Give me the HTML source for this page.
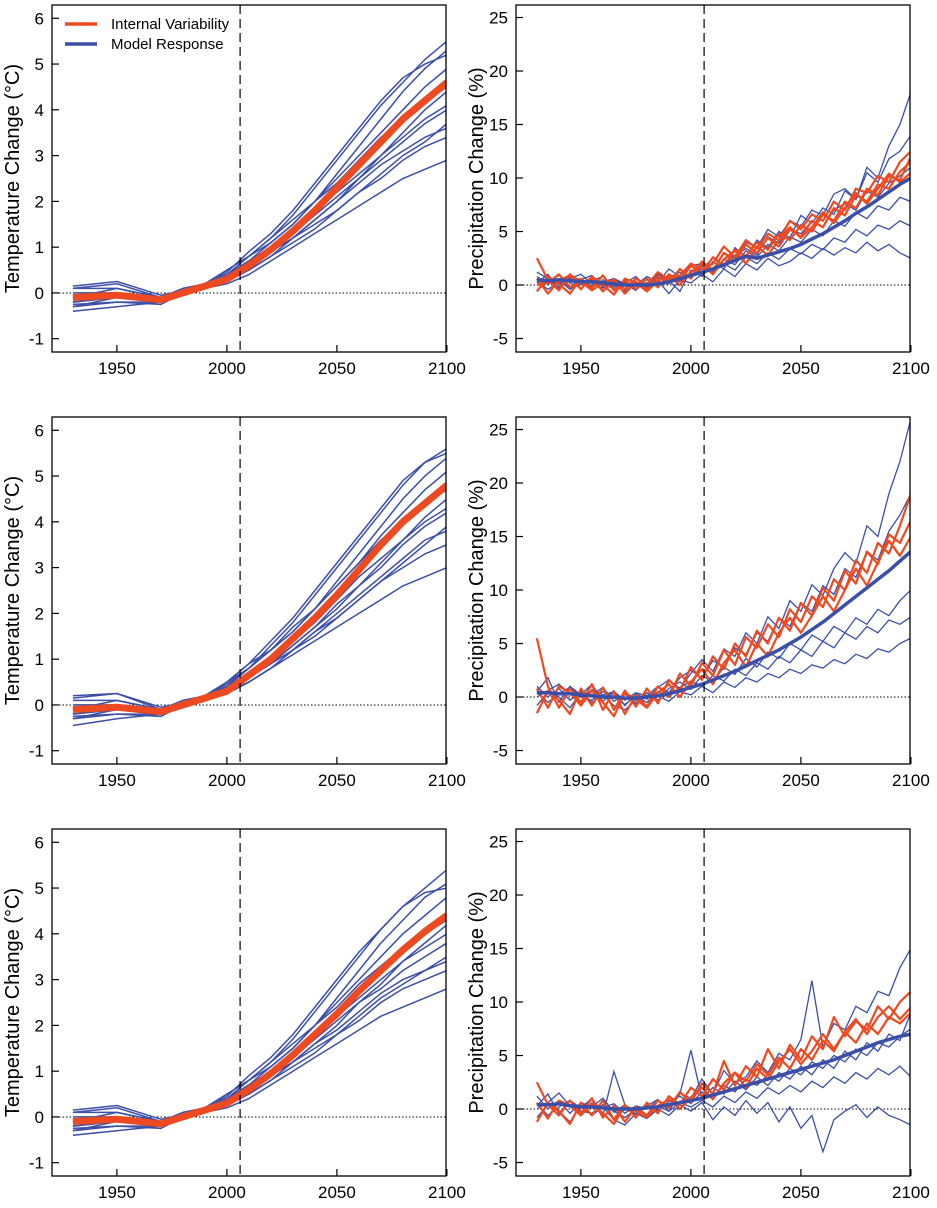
<!DOCTYPE html>
<html><head><meta charset="utf-8"><style>
body{margin:0;background:#fff}
svg{display:block;font-family:"Liberation Sans",Arial,sans-serif}
</style></head><body>
<svg id="chart" width="937" height="1208" viewBox="0 0 937 1208"></svg>
<script>
// ---------- DATA ----------
const tYears = [1930,1950,1970,1980,1990,2000,2010,2020,2030,2040,2050,2060,2070,2080,2090,2100];
const tModels1 = [
 [-0.1,0.1,-0.1,0.0,0.2,0.4,0.8,1.2,1.7,2.3,2.9,3.5,4.1,4.6,5.1,5.5],
 [0.1,0.2,-0.1,0.1,0.2,0.5,0.8,1.1,1.5,2.0,2.6,3.2,3.8,4.4,4.9,5.3],
 [-0.3,-0.2,-0.2,0.0,0.1,0.3,0.6,0.9,1.2,1.6,2.0,2.5,3.0,3.5,4.0,4.4],
 [-0.4,-0.3,-0.2,0.0,0.1,0.2,0.4,0.7,1.0,1.3,1.6,1.9,2.2,2.5,2.7,2.9],
 [0.0,0.0,-0.1,0.0,0.2,0.4,0.7,1.0,1.4,1.8,2.2,2.6,3.0,3.4,3.8,4.1],
 [-0.2,-0.1,-0.2,0.0,0.1,0.3,0.6,0.9,1.2,1.5,1.8,2.2,2.5,2.9,3.2,3.4],
 [-0.1,0.0,-0.1,0.0,0.2,0.4,0.7,1.1,1.5,2.0,2.5,3.0,3.5,4.0,4.5,4.9],
 [-0.2,-0.1,-0.2,0.0,0.1,0.3,0.5,0.8,1.1,1.4,1.8,2.2,2.6,3.0,3.3,3.7],
 [0.1,0.1,-0.1,0.0,0.2,0.5,0.8,1.2,1.6,2.0,2.4,2.9,3.4,3.8,4.2,4.5],
 [-0.3,-0.1,-0.2,0.0,0.1,0.3,0.6,0.9,1.3,1.7,2.1,2.5,2.9,3.3,3.7,4.0],
 [0.15,0.25,-0.05,0.05,0.2,0.45,0.9,1.3,1.8,2.4,3.0,3.6,4.2,4.7,5.0,5.2],
 [-0.25,-0.2,-0.25,0.0,0.1,0.25,0.5,0.8,1.2,1.6,2.0,2.4,2.8,3.1,3.4,3.6]
];
const tMean1 = [-0.1,-0.05,-0.15,0.0,0.15,0.3,0.6,0.95,1.35,1.8,2.3,2.8,3.3,3.8,4.2,4.6];
const tModels2 = [
 [-0.1,0.1,-0.1,0.0,0.2,0.4,0.8,1.3,1.8,2.4,3.0,3.6,4.2,4.8,5.3,5.6],
 [0.2,0.25,-0.1,0.1,0.2,0.5,0.9,1.2,1.6,2.1,2.7,3.3,3.9,4.5,5.0,5.4],
 [-0.3,-0.2,-0.2,0.0,0.1,0.3,0.6,0.9,1.3,1.7,2.1,2.6,3.1,3.6,4.1,4.5],
 [-0.45,-0.3,-0.2,0.0,0.1,0.25,0.5,0.8,1.1,1.4,1.7,2.0,2.3,2.6,2.8,3.0],
 [0.0,0.0,-0.1,0.0,0.2,0.4,0.7,1.0,1.4,1.8,2.3,2.8,3.2,3.6,4.0,4.3],
 [-0.2,-0.1,-0.2,0.0,0.1,0.3,0.6,0.9,1.2,1.6,1.9,2.3,2.7,3.0,3.3,3.5],
 [-0.1,0.0,-0.1,0.0,0.2,0.45,0.8,1.2,1.6,2.1,2.6,3.1,3.7,4.2,4.7,5.1],
 [-0.2,-0.1,-0.2,0.0,0.1,0.3,0.5,0.8,1.2,1.5,1.9,2.3,2.7,3.1,3.5,3.9],
 [0.1,0.1,-0.1,0.0,0.2,0.5,0.8,1.2,1.7,2.1,2.6,3.1,3.6,4.0,4.4,4.7],
 [-0.3,-0.1,-0.2,0.0,0.1,0.3,0.6,0.9,1.3,1.7,2.2,2.6,3.0,3.5,3.9,4.2],
 [0.15,0.25,-0.05,0.05,0.2,0.5,0.9,1.4,1.9,2.5,3.1,3.7,4.3,4.9,5.3,5.5],
 [-0.25,-0.2,-0.25,0.0,0.1,0.25,0.5,0.8,1.2,1.6,2.0,2.4,2.8,3.2,3.6,3.8]
];
const tMean2 = [-0.1,-0.05,-0.15,0.0,0.15,0.3,0.65,1.0,1.45,1.9,2.4,2.95,3.5,4.0,4.4,4.8];
const tModels3 = [
 [-0.1,0.1,-0.1,0.0,0.2,0.4,0.8,1.2,1.7,2.3,2.9,3.5,4.1,4.6,5.0,5.4],
 [0.1,0.2,-0.1,0.1,0.2,0.5,0.8,1.1,1.5,2.0,2.6,3.2,3.8,4.3,4.8,5.1],
 [-0.3,-0.2,-0.2,0.0,0.1,0.3,0.6,0.9,1.2,1.6,2.0,2.5,2.9,3.4,3.8,4.2],
 [-0.4,-0.3,-0.2,0.0,0.1,0.2,0.4,0.7,1.0,1.3,1.6,1.9,2.2,2.4,2.6,2.8],
 [0.0,0.0,-0.1,0.0,0.2,0.4,0.7,1.0,1.4,1.8,2.2,2.6,3.0,3.4,3.7,4.0],
 [-0.2,-0.1,-0.2,0.0,0.1,0.3,0.6,0.9,1.2,1.5,1.8,2.1,2.5,2.8,3.0,3.2],
 [-0.1,0.0,-0.1,0.0,0.2,0.4,0.7,1.1,1.5,2.0,2.5,3.0,3.5,4.0,4.4,4.8],
 [-0.2,-0.1,-0.2,0.0,0.1,0.3,0.5,0.8,1.1,1.4,1.8,2.2,2.6,2.9,3.2,3.5],
 [0.1,0.1,-0.1,0.0,0.2,0.5,0.8,1.2,1.6,2.0,2.4,2.9,3.3,3.7,4.0,4.3],
 [-0.3,-0.1,-0.2,0.0,0.1,0.3,0.6,0.9,1.3,1.7,2.1,2.5,2.8,3.2,3.5,3.8],
 [0.15,0.25,-0.05,0.05,0.2,0.45,0.9,1.3,1.8,2.4,3.0,3.6,4.1,4.6,4.9,5.0],
 [-0.25,-0.2,-0.25,0.0,0.1,0.25,0.5,0.8,1.2,1.6,1.9,2.3,2.7,3.0,3.2,3.4]
];
const tMean3 = [-0.1,-0.05,-0.15,0.0,0.15,0.3,0.6,0.95,1.35,1.8,2.25,2.75,3.2,3.65,4.05,4.4];

const pYears = [1930,1935,1940,1945,1950,1955,1960,1965,1970,1975,1980,1985,1990,1995,2000,2005,2010,2015,2020,2025,2030,2035,2040,2045,2050,2055,2060,2065,2070,2075,2080,2085,2090,2095,2100];
const pMean1 = [0.5,0.4,0.5,0.4,0.3, 0.3,0.2,0.1,0.0,0.0, 0.0,0.1,0.3,0.6,0.9, 1.2,1.5,1.9,2.3,2.7, 2.5,2.8,3.1,3.4,3.8, 4.3,4.8,5.4,6.0,6.7, 7.3,8.0,8.7,9.4,10.0];
const pModels1 = [
 [0.2,1.0,-0.3,0.8,0.5, 0.9,-0.2,0.4,0.1,-0.5, 0.6,0.2,1.5,0.8,1.8, 2.0,1.2,3.0,2.5,4.0, 3.5,5.2,4.5,6.0,5.5, 7.0,6.5,8.5,9.0,8.0, 11,10,13,15,18],
 [0.8,0.1,0.5,-0.4,0.3, -0.2,0.5,0.0,-0.6,0.2, -0.3,0.4,-0.8,0.5,0.2, 1.0,0.3,1.5,0.8,2.0, 1.4,2.5,1.8,2.2,3.0, 2.5,3.4,2.8,3.5,3.0, 4.0,3.2,3.8,3.0,2.5],
 [-0.5,0.3,0.9,0.2,-0.3, 0.4,0.8,-0.2,0.3,-0.1, 0.5,-0.2,0.7,1.2,0.6, 1.8,1.2,2.4,1.9,3.2, 2.6,3.8,3.2,4.5,4.0, 5.2,4.6,6.0,5.5,6.8, 6.2,7.4,7.0,8.2,7.8],
 [0.3,-0.4,0.2,0.6,1.0, 0.1,-0.3,0.5,0.2,0.8, -0.2,1.0,0.4,-0.6,1.4, 0.8,2.2,1.5,3.5,2.6, 4.2,3.5,5.0,4.4,6.5, 5.8,7.2,6.6,8.8,8.0, 10.5,9.6,11.8,12.5,14.0],
 [1.2,0.6,-0.2,0.4,0.0, 0.6,0.2,-0.4,0.3,0.0, 0.8,0.3,0.1,0.9,1.8, 1.0,1.5,2.0,1.4,2.6, 2.0,3.0,2.4,3.4,2.9, 3.8,3.3,4.4,4.0,5.2, 4.6,5.6,5.2,6.0,5.5],
 [0.0,0.5,0.2,-0.2,0.6, -0.1,0.3,0.6,0.1,-0.3, 0.2,0.6,0.9,0.3,1.0, 1.5,2.5,1.9,2.8,3.4, 2.8,4.5,3.9,5.2,4.8, 6.0,5.4,7.0,7.6,7.0, 8.8,8.2,9.5,10.2,11.0]
];
const pEnsemble1 = [
 [2.5,0.5,-0.5,1.0,0.2, 0.6,-0.6,0.4,-0.8,0.3, -0.4,0.8,0.2,1.5,0.6, 2.2,1.4,3.0,2.2,3.8, 3.0,4.4,3.6,5.2,4.5, 6.0,5.4,7.2,6.5,8.4, 7.8,9.4,9.0,10.6,11.5],
 [-0.6,0.8,0.1,-0.8,0.6, -0.3,0.9,-0.5,0.4,-0.4, 0.6,-0.2,1.0,0.4,1.8, 1.1,2.6,1.8,3.3,2.7, 4.0,3.3,4.8,4.2,5.6, 5.0,6.6,6.0,7.8,7.2, 9.0,8.4,10.2,9.8,12.0],
 [0.6,-0.8,0.4,0.9,-0.4, 0.8,0.0,-0.9,0.6,0.2, -0.6,0.4,0.8,0.0,1.2, 2.0,1.0,2.4,3.2,2.0, 3.6,2.8,4.2,5.4,4.4, 5.4,6.8,5.8,7.2,8.6, 7.6,9.0,10.4,9.6,10.5],
 [0.0,0.2,1.0,-0.2,0.3, -0.5,0.2,0.5,-0.4,0.6, 0.0,1.2,0.5,0.9,2.0, 1.5,2.0,3.6,2.6,4.2, 3.4,4.8,4.2,6.0,5.2, 6.6,6.0,7.8,7.0,9.0, 8.6,10.2,9.6,11.5,12.5]
];
const pMean2 = [0.4,0.4,0.3,0.3,0.2, 0.1,0.0,0.0,-0.1,-0.1, 0.0,0.1,0.3,0.6,0.9, 1.2,1.6,2.0,2.4,2.9, 3.4,3.9,4.4,5.0,5.6, 6.3,7.0,7.8,8.6,9.4, 10.2,11.0,11.8,12.7,13.6];
const pModels2 = [
 [0.5,1.8,-0.5,1.0,0.2, 1.2,-0.4,0.6,-0.8,0.3, -0.2,0.9,1.6,0.8,2.2, 3.5,2.4,4.5,3.8,6.0, 5.0,7.5,6.4,9.0,8.0, 10.5,9.5,12.0,13.5,12.5, 16,15,19,22,26],
 [-0.8,0.5,0.0,-1.0,0.4, -0.5,0.2,-0.8,-1.2,-0.3, -0.8,0.1,-0.4,0.5,0.2, 1.0,0.4,1.4,0.9,1.8, 1.4,2.2,1.8,2.6,2.2, 3.0,2.7,3.5,3.1,4.0, 3.6,4.5,4.2,5.0,5.5],
 [1.0,0.0,0.8,-0.3,0.5, 0.2,0.9,-0.4,0.3,-0.6, 0.4,-0.3,0.8,1.4,0.7, 2.0,1.4,2.8,2.1,3.6, 2.8,4.2,3.6,5.0,4.4, 5.8,5.2,6.6,6.0,7.4, 6.8,8.2,7.6,9.0,10.0],
 [0.0,0.6,1.2,0.3,-0.4, 0.7,0.2,0.5,-0.3,0.4, 0.1,1.0,0.4,1.8,2.5, 1.8,3.4,2.8,4.6,4.0, 6.0,5.2,7.4,6.6,8.8, 8.0,10.4,9.6,12.0,11.2, 13.6,12.8,15.5,17,19],
 [0.4,-0.5,0.3,0.9,0.0, -0.3,0.5,0.0,-0.7,0.1, -0.5,0.5,0.0,0.9,1.5, 1.0,2.0,1.5,2.6,2.0, 3.2,2.6,3.8,3.2,4.4, 3.8,5.2,4.6,6.0,5.4, 6.6,6.0,7.2,6.8,7.5]
];
const pEnsemble2 = [
 [5.5,1.0,-1.0,0.8,-0.5, 1.2,-1.2,0.5,-1.6,0.2, -0.9,1.0,0.0,2.2,1.0, 3.2,2.0,4.4,3.0,5.6, 4.6,6.8,5.6,8.2,7.0, 9.4,8.4,11.0,10.0,12.8, 11.6,14.4,13.4,16.0,19.0],
 [-1.5,0.6,-0.3,-1.6,0.8, -0.8,0.9,-1.2,0.6,-0.9, 0.8,-0.6,1.6,0.6,2.8, 1.6,3.8,2.6,5.0,3.8, 6.2,5.0,7.4,6.2,8.8, 7.6,10.2,9.0,11.8,10.6, 13.6,12.4,15.2,14.4,16.5],
 [0.8,-1.0,1.0,0.4,-0.8, 0.6,-0.5,-1.8,0.4,-0.2, -1.0,0.4,1.2,0.0,1.4, 2.6,1.2,3.2,4.4,2.8, 5.0,3.8,6.0,7.4,6.0, 7.6,9.4,8.0,10.0,12.0, 10.4,12.6,14.6,13.2,15.0]
];
const pMean3 = [0.4,0.4,0.5,0.3,0.2, 0.2,0.1,0.0,0.0,0.0, 0.1,0.2,0.4,0.6,0.8, 1.0,1.3,1.6,1.9,2.2, 2.5,2.8,3.1,3.4,3.7, 4.0,4.3,4.6,5.0,5.4, 5.8,6.2,6.5,6.8,7.0];
const pModels3 = [
 [0.3,1.4,-0.4,0.8,0.1, 1.0,-0.6,3.5,0.4,-0.5, 0.3,0.9,-0.2,1.5,1.0, 2.8,1.4,3.6,2.4,3.0, 4.5,3.4,5.2,4.6,6.5, 12.0,5.8,8.0,7.4,9.6, 9.0,11.0,10.6,13.2,15.0],
 [-0.8,0.4,-0.2,-1.2,0.3, -0.6,0.2,-1.0,-1.5,-0.4, -0.9,0.0,-0.6,0.4,-0.2, 0.6,-1.0,0.2,-0.6,0.8, -0.4,0.6,-1.2,0.2,-1.8, -0.6,-4.0,-1.0,-0.2,0.4, -0.8,0.2,-0.6,-1.0,-1.5],
 [1.2,0.0,0.8,-0.4,0.6, 0.2,1.0,-0.3,0.4,-0.5, 0.5,-0.2,0.7,1.2,0.5, 1.6,1.0,2.2,1.6,2.8, 2.2,3.2,2.6,3.8,3.2, 4.4,3.8,5.0,4.4,5.6, 5.0,6.2,5.8,6.8,7.5],
 [0.0,0.6,1.5,0.3,-0.4, 0.6,0.1,0.5,-0.4,0.3, 0.0,0.8,0.2,1.4,5.5, 1.0,2.0,1.4,2.6,1.8, 3.0,2.2,3.4,2.8,4.0, 3.2,4.6,3.8,5.4,4.6, 6.2,5.4,7.0,6.4,9.0],
 [0.5,-0.6,0.2,0.8,-0.2, -0.4,0.4,-0.2,-0.8,0.0, -0.6,0.3,-0.2,0.6,0.2, 0.8,0.2,1.2,0.6,1.6, 1.0,2.0,1.4,2.2,1.6, 2.6,2.0,3.0,2.4,3.4, 2.8,3.8,3.2,4.0,3.0]
];
const pEnsemble3 = [
 [2.5,0.4,-0.6,0.8,-0.4, 1.0,-0.8,0.3,-1.2,0.2, -0.6,0.8,0.1,1.6,0.6, 2.4,1.4,4.5,2.2,4.0, 3.0,5.6,3.8,6.0,4.6, 6.8,5.6,8.6,6.8,8.2, 7.4,9.6,8.4,10.0,11.0],
 [-1.2,0.6,-0.2,-1.4,0.6, -0.6,0.8,-1.0,0.4,-0.8, 0.6,-0.4,1.2,0.4,2.0, 1.2,2.8,1.8,3.4,2.6, 4.2,3.2,4.8,3.8,5.6, 4.6,6.4,5.4,7.2,6.2, 8.0,7.0,8.6,8.0,9.0],
 [0.6,-0.9,0.8,0.3,-0.6, 0.5,-0.4,-1.4,0.3,-0.2, -0.8,0.3,0.9,0.0,1.1, 2.0,0.9,2.4,3.4,2.0, 3.8,2.8,4.4,5.6,4.2, 5.4,7.0,5.6,7.2,8.4, 7.0,8.6,9.6,8.4,9.5]
];
const xTicks = [1950,2000,2050,2100];
const tTicks = [-1,0,1,2,3,4,5,6];
const pTicks = [-5,0,5,10,15,20,25];
const legendLabels = ["Internal Variability","Model Response"];

// ---------- DRAW ----------
const NS = "http://www.w3.org/2000/svg";
const svg = document.getElementById('chart');
const BLUE = "#3b4fa8", RED = "#ee4a22";
function el(tag, attrs, parent){ const e=document.createElementNS(NS,tag); for(const k in attrs) e.setAttribute(k,attrs[k]); (parent||svg).appendChild(e); return e; }

function panel(name, left, top, ymin, ymax, yTicks, yLabel, years, models, ensemble, mean, isTemp){
  const W=394, H=347, right=left+W, bottom=top+H;
  const g = el('g',{});
  
  
  const xs = y => left + (y-1920.5)*2.2;
  const ys = v => bottom - (v-ymin)/(ymax-ymin)*H;
  const clip = el('clipPath',{id:'c-'+name}, g);
  el('rect',{x:left,y:top,width:W,height:H},clip);
  const plot = el('g',{'clip-path':'url(#c-'+name+')'}, g);
  const pts = arr => arr.map((v,i)=>xs(years[i]).toFixed(1)+','+ys(v).toFixed(1)).join(' ');
  const z = el('line',{x1:left,x2:right,y1:ys(0),y2:ys(0),stroke:'#000','stroke-width':1,'stroke-dasharray':'1.5,2'}, plot);
  
  
  models.forEach(a=>{ const l=el('polyline',{points:pts(a),fill:'none',stroke:BLUE,'stroke-width':isTemp?1.5:1.3}, plot);
    
     });
  if(!isTemp){
    ensemble.forEach(a=>{ const l=el('polyline',{points:pts(a),fill:'none',stroke:RED,'stroke-width':2.2,'stroke-linejoin':'round'}, plot);
      
       });
  }
  const m = el('polyline',{points:pts(mean),fill:'none',stroke:isTemp?RED:BLUE,'stroke-width':isTemp?7:3.5,'stroke-linejoin':'round'}, plot);
  
  
  const d = el('line',{x1:xs(2006),x2:xs(2006),y1:top,y2:bottom,stroke:'#000','stroke-width':1.2,'stroke-dasharray':'9,5'}, g);
  
  
  const box = el('rect',{x:left,y:top,width:W,height:H,fill:'none',stroke:'#000','stroke-width':1.3}, g);
  
  
  yTicks.forEach(t=>{
    el('line',{x1:left,x2:left+7,y1:ys(t),y2:ys(t),stroke:'#000','stroke-width':1.2}, g);
    const tx = el('text',{x:left-8,y:ys(t)+6,'text-anchor':'end','font-size':17,fill:'#000'}, g);
    tx.textContent = t;
    
    
  });
  xTicks.forEach(t=>{
    el('line',{x1:xs(t),x2:xs(t),y1:bottom,y2:bottom-7,stroke:'#000','stroke-width':1.2}, g);
    const tx = el('text',{x:xs(t),y:bottom+22,'text-anchor':'middle','font-size':17,fill:'#000'}, g);
    tx.textContent = t;
    
    
  });
  const cy = top+H/2;
  const lab = el('text',{x:0,y:0,'text-anchor':'middle','font-size':20,fill:'#000',transform:`translate(${left-33},${cy}) rotate(-90)`}, g);
  lab.textContent = yLabel;
  
  
}

const rows=[5,417,829];
const tData=[[tModels1,tMean1],[tModels2,tMean2],[tModels3,tMean3]];
const pData=[[pModels1,pEnsemble1,pMean1],[pModels2,pEnsemble2,pMean2],[pModels3,pEnsemble3,pMean3]];
rows.forEach((top,i)=>{
  panel('temperature-panel-'+(i+1),52,top,-1.29,6.29,tTicks,'Temperature Change (°C)',tYears,tData[i][0],[],tData[i][1],true);
  panel('precipitation-panel-'+(i+1),516,top,-6.26,26.17,pTicks,'Precipitation Change (%)',pYears,pData[i][0],pData[i][1],pData[i][2],false);
});

const lg = el('g',{});


[RED,BLUE].forEach((c,i)=>{
  el('line',{x1:65,x2:97,y1:24+i*20,y2:24+i*20,stroke:c,'stroke-width':3.5}, lg);
  const t = el('text',{x:111,y:29+i*20,'font-size':15,fill:'#000'}, lg);
  t.textContent = legendLabels[i];
  
  
});
</script>
</body></html>
